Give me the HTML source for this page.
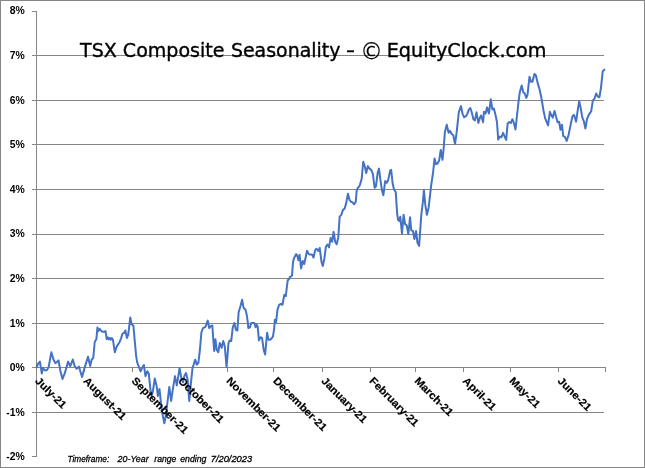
<!DOCTYPE html>
<html><head><meta charset="utf-8"><title>TSX Composite Seasonality</title>
<style>html,body{margin:0;padding:0;background:#fff}svg{display:block}.yl{font:bold 10.4px "Liberation Sans",Arial,sans-serif;fill:#000;text-anchor:end}.xl{font:bold 10.67px "Liberation Sans",Arial,sans-serif;fill:#000;stroke:#000;stroke-width:.2px}.tt{font:18.67px "DejaVu Sans",Verdana,sans-serif;fill:#000;stroke:#000;stroke-width:.35px}.tf{font:italic 9.33px "Liberation Sans",Arial,sans-serif;fill:#000;white-space:pre;stroke:#000;stroke-width:.3px}</style></head><body>
<svg width="645" height="468" viewBox="0 0 645 468">
<rect x="0" y="0" width="645" height="468" fill="#fff"/>
<rect x="0.5" y="0.5" width="644" height="467" fill="none" stroke="#868686" stroke-width="1"/>
<g stroke="#868686" stroke-width="1" shape-rendering="crispEdges">
<line x1="32" y1="11.5" x2="37" y2="11.5"/>
<line x1="32" y1="55.5" x2="604" y2="55.5"/>
<line x1="32" y1="100.5" x2="604" y2="100.5"/>
<line x1="32" y1="144.5" x2="604" y2="144.5"/>
<line x1="32" y1="189.5" x2="604" y2="189.5"/>
<line x1="32" y1="234.5" x2="604" y2="234.5"/>
<line x1="32" y1="278.5" x2="604" y2="278.5"/>
<line x1="32" y1="323.5" x2="604" y2="323.5"/>
<line x1="32" y1="367.5" x2="606" y2="367.5"/>
<line x1="32" y1="412.5" x2="604" y2="412.5"/>
<line x1="32" y1="456.5" x2="37" y2="456.5"/>
<line x1="36.5" y1="11" x2="36.5" y2="457"/>
<line x1="84.5" y1="367" x2="84.5" y2="372"/>
<line x1="132.5" y1="367" x2="132.5" y2="372"/>
<line x1="179.5" y1="367" x2="179.5" y2="372"/>
<line x1="227.5" y1="367" x2="227.5" y2="372"/>
<line x1="273.5" y1="367" x2="273.5" y2="372"/>
<line x1="322.5" y1="367" x2="322.5" y2="372"/>
<line x1="370.5" y1="367" x2="370.5" y2="372"/>
<line x1="415.5" y1="367" x2="415.5" y2="372"/>
<line x1="463.5" y1="367" x2="463.5" y2="372"/>
<line x1="510.5" y1="367" x2="510.5" y2="372"/>
<line x1="558.5" y1="367" x2="558.5" y2="372"/>
<line x1="605.5" y1="367" x2="605.5" y2="372"/>
</g>
<path d="M36.45,367.46 L38.31,363.49 L39.92,361.63 L41.78,373.41 L43.02,367.83 L44.64,370.31 L46.74,370.31 L48.60,367.21 L51.33,352.33 L53.57,359.77 L55.43,363.24 L58.53,360.39 L60.39,370.93 L62.50,378.99 L64.73,373.41 L68.08,361.63 L70.31,366.22 L72.79,359.52 L74.65,365.97 L76.51,368.70 L78.99,366.59 L80.23,370.93 L82.09,376.88 L84.57,367.83 L88.05,356.67 L90.16,365.97 L91.64,359.77 L93.26,357.91 L94.74,341.78 L96.36,339.30 L97.44,327.40 L98.43,331.12 L99.67,328.89 L100.91,330.50 L102.40,331.74 L103.89,331.74 L105.50,331.12 L106.74,339.19 L107.74,337.33 L108.85,339.19 L109.84,337.95 L110.71,339.81 L111.71,337.95 L112.95,339.81 L114.81,352.21 L116.67,346.63 L118.28,344.15 L119.77,341.67 L121.01,338.57 L122.50,333.60 L124.11,332.98 L125.35,330.50 L126.96,337.95 L128.20,334.84 L130.31,317.48 L131.55,324.30 L133.41,325.54 L134.65,339.81 L136.14,355.93 L137.13,362.13 L138.99,367.09 L140.60,371.43 L142.36,367.44 L143.85,364.96 L145.47,376.12 L147.33,371.16 L148.81,373.64 L150.43,389.77 L151.67,395.97 L152.91,391.01 L154.77,378.60 L156.63,386.05 L157.87,395.97 L159.50,389.00 L161.50,408.00 L162.50,414.00 L164.30,423.20 L165.80,416.00 L169.30,387.00 L171.14,400.93 L172.75,389.77 L174.98,376.12 L176.84,385.43 L179.57,368.06 L181.43,378.60 L183.05,382.33 L184.29,376.12 L186.02,373.02 L187.64,379.84 L189.25,400.93 L190.74,384.81 L192.60,367.44 L193.72,364.61 L195.21,359.65 L196.82,364.61 L198.43,362.75 L199.92,349.73 L201.41,332.36 L203.02,328.02 L205.50,326.78 L207.74,320.58 L209.22,328.02 L210.84,326.16 L212.33,325.54 L213.32,339.81 L214.19,350.97 L215.43,339.19 L216.67,349.73 L218.28,352.21 L219.77,342.91 L221.63,347.87 L223.24,341.05 L224.73,346.01 L226.59,367.09 L228.45,343.53 L229.69,340.43 L231.18,341.05 L232.79,327.40 L234.40,323.06 L235.89,329.88 L237.38,330.50 L238.64,312.17 L240.50,305.97 L242.12,299.77 L243.60,307.83 L245.47,309.69 L246.71,314.65 L247.95,323.33 L248.29,328.02 L250.00,327.29 L251.24,322.95 L254.34,322.95 L255.58,327.29 L256.82,324.81 L257.69,326.67 L258.93,340.31 L260.54,337.21 L262.03,337.83 L263.64,349.61 L265.13,354.57 L267.12,332.87 L268.60,339.69 L270.47,339.69 L272.95,336.59 L274.19,328.53 L274.81,319.84 L276.05,322.33 L277.53,309.30 L279.15,304.96 L280.76,303.97 L282.50,304.71 L284.29,294.81 L285.78,296.05 L287.64,280.54 L288.88,279.30 L290.12,276.82 L291.98,275.58 L293.02,262.21 L293.89,258.49 L296.12,254.15 L297.36,256.01 L298.36,260.35 L299.60,254.77 L301.09,268.41 L302.70,260.97 L304.19,264.07 L305.43,258.49 L307.04,250.80 L308.78,254.15 L312.25,254.77 L313.49,257.50 L315.35,249.81 L316.59,248.81 L318.45,251.05 L319.69,247.95 L321.55,262.21 L322.79,265.93 L324.40,258.49 L325.89,246.71 L327.38,244.60 L328.99,247.33 L330.60,238.02 L332.09,241.74 L333.58,231.82 L335.19,241.74 L336.68,244.22 L338.29,237.40 L339.64,216.67 L341.37,214.81 L342.98,209.84 L344.60,208.60 L346.09,203.64 L347.95,193.72 L349.56,199.92 L351.05,201.78 L352.53,202.40 L354.15,204.26 L355.76,201.78 L356.67,190.93 L357.91,187.83 L359.52,185.97 L361.63,179.15 L363.24,161.78 L364.73,166.12 L366.22,172.95 L367.83,166.12 L369.44,168.60 L371.18,169.84 L372.79,173.57 L374.65,187.83 L375.89,186.59 L377.75,172.33 L378.99,168.60 L380.23,178.53 L381.84,189.69 L383.33,195.27 L385.19,181.01 L386.81,182.87 L388.29,179.77 L390.16,170.47 L391.15,169.84 L392.64,183.49 L393.88,189.07 L395.74,192.17 L397.16,213.60 L398.02,219.81 L399.26,221.05 L400.26,216.71 L401.99,233.45 L403.60,214.84 L405.09,224.15 L406.71,225.39 L408.32,234.07 L410.05,217.33 L411.29,230.35 L412.91,230.97 L414.40,239.03 L416.01,230.97 L417.50,242.75 L419.11,245.85 L420.35,228.49 L421.22,215.47 L422.83,202.44 L423.89,190.23 L425.31,204.92 L426.92,214.84 L428.66,207.40 L431.09,185.89 L432.95,173.49 L434.56,158.60 L436.05,164.19 L437.53,163.57 L439.15,160.47 L440.76,149.92 L442.50,159.84 L443.74,147.44 L444.88,132.17 L446.74,124.73 L448.60,132.79 L450.09,130.93 L451.71,134.03 L453.32,135.27 L455.05,143.95 L456.67,132.17 L458.78,112.33 L461.01,106.12 L462.50,113.57 L464.11,117.29 L465.97,116.05 L467.21,114.19 L468.70,109.84 L470.31,107.98 L471.92,112.95 L473.41,119.15 L474.90,120.39 L476.51,112.33 L478.37,122.87 L479.86,117.91 L481.10,115.43 L483.09,122.25 L483.95,111.71 L485.57,113.57 L487.05,107.36 L488.91,113.57 L490.78,99.30 L492.39,109.22 L493.88,108.60 L495.74,116.05 L496.98,122.25 L498.22,139.61 L499.96,136.59 L501.45,137.21 L503.06,132.87 L504.67,136.59 L506.16,139.94 L507.65,123.57 L509.26,122.08 L510.88,122.95 L512.36,119.22 L513.85,122.95 L515.47,129.52 L517.08,114.88 L518.57,101.24 L519.81,92.29 L521.67,85.47 L523.28,92.29 L524.77,93.53 L526.26,97.87 L527.50,94.77 L529.48,76.78 L530.97,81.74 L532.46,81.74 L534.44,73.93 L535.93,75.54 L537.79,83.60 L539.65,89.81 L541.51,98.49 L543.37,109.92 L545.23,118.60 L548.09,125.43 L549.82,111.78 L551.43,115.50 L552.67,117.61 L554.53,110.91 L556.02,116.74 L557.64,122.33 L559.12,121.71 L560.49,129.77 L561.98,124.81 L563.22,135.97 L564.71,136.59 L566.69,140.93 L568.64,134.69 L570.50,125.39 L572.36,116.71 L573.85,114.84 L574.84,117.33 L576.09,121.67 L577.57,111.12 L579.19,101.20 L580.80,108.64 L582.29,117.33 L583.78,121.05 L585.39,128.49 L587.00,119.19 L588.74,114.84 L591.22,111.12 L592.83,100.58 L594.44,98.72 L596.18,93.49 L597.79,96.59 L599.40,97.21 L600.89,88.53 L602.75,71.16 L604.36,69.67" fill="none" stroke="#4472C4" stroke-width="2" stroke-linejoin="round" stroke-linecap="round"/>
<text class="yl" x="24.8" y="14">8%</text>
<text class="yl" x="24.8" y="59">7%</text>
<text class="yl" x="24.8" y="104">6%</text>
<text class="yl" x="24.8" y="148">5%</text>
<text class="yl" x="24.8" y="193">4%</text>
<text class="yl" x="24.8" y="237">3%</text>
<text class="yl" x="24.8" y="282">2%</text>
<text class="yl" x="24.8" y="327">1%</text>
<text class="yl" x="24.8" y="371">0%</text>
<text class="yl" x="24.8" y="416">-1%</text>
<text class="yl" x="24.8" y="460">-2%</text>
<text class="xl" transform="translate(34.6,381.5) rotate(45)" textLength="39.01" lengthAdjust="spacingAndGlyphs">July-21</text>
<text class="xl" transform="translate(82.8,381.5) rotate(45)" textLength="55.30" lengthAdjust="spacingAndGlyphs">August-21</text>
<text class="xl" transform="translate(131.0,381.5) rotate(45)" textLength="74.79" lengthAdjust="spacingAndGlyphs">September-21</text>
<text class="xl" transform="translate(177.6,381.5) rotate(45)" textLength="59.71" lengthAdjust="spacingAndGlyphs">October-21</text>
<text class="xl" transform="translate(225.8,381.5) rotate(45)" textLength="71.65" lengthAdjust="spacingAndGlyphs">November-21</text>
<text class="xl" transform="translate(272.5,381.5) rotate(45)" textLength="71.03" lengthAdjust="spacingAndGlyphs">December-21</text>
<text class="xl" transform="translate(320.7,381.5) rotate(45)" textLength="59.73" lengthAdjust="spacingAndGlyphs">January-21</text>
<text class="xl" transform="translate(368.8,381.5) rotate(45)" textLength="64.74" lengthAdjust="spacingAndGlyphs">February-21</text>
<text class="xl" transform="translate(413.9,381.5) rotate(45)" textLength="49.67" lengthAdjust="spacingAndGlyphs">March-21</text>
<text class="xl" transform="translate(462.1,381.5) rotate(45)" textLength="42.13" lengthAdjust="spacingAndGlyphs">April-21</text>
<text class="xl" transform="translate(508.8,381.5) rotate(45)" textLength="38.38" lengthAdjust="spacingAndGlyphs">May-21</text>
<text class="xl" transform="translate(557.0,381.5) rotate(45)" textLength="42.77" lengthAdjust="spacingAndGlyphs">June-21</text>
<text class="tt"><tspan x="80" y="56.5" textLength="144.5" lengthAdjust="spacingAndGlyphs">TSX Composite</tspan> <tspan x="230.9" y="56.5" textLength="109.6" lengthAdjust="spacingAndGlyphs">Seasonality</tspan> <tspan x="346" y="56.5" textLength="9.0" lengthAdjust="spacingAndGlyphs">-</tspan> <tspan x="360.2" y="59" textLength="22.5" lengthAdjust="spacingAndGlyphs" style="font-size:22.5px;stroke-width:.1px">©</tspan> <tspan x="386.7" y="56.5" textLength="159.8" lengthAdjust="spacingAndGlyphs">EquityClock.com</tspan></text>
<text class="tf" y="461.7" xml:space="preserve"><tspan x="67.5" textLength="41.7" lengthAdjust="spacingAndGlyphs">Timeframe:</tspan>   <tspan x="117.6" textLength="31.0" lengthAdjust="spacingAndGlyphs">20-Year</tspan>  <tspan x="154.3" textLength="21.95" lengthAdjust="spacingAndGlyphs">range</tspan> <tspan x="180.2" textLength="26.2" lengthAdjust="spacingAndGlyphs">ending</tspan>  <tspan x="210.7" textLength="41.5" lengthAdjust="spacingAndGlyphs">7/20/2023</tspan></text>
</svg></body></html>
